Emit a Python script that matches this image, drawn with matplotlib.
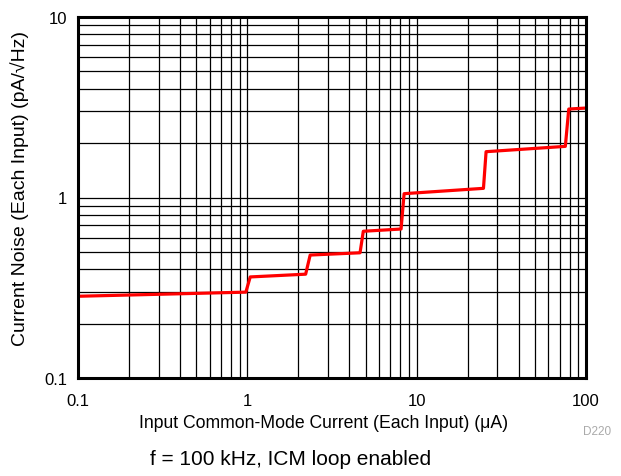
import matplotlib
matplotlib.use("Agg")
import matplotlib.pyplot as plt
from matplotlib.ticker import FixedLocator, FixedFormatter, LogLocator, NullFormatter

plt.rcParams['font.family'] = ['Liberation Sans', 'DejaVu Sans']

# Data
icm_uA = [0.105, 0.98, 1.04, 2.21, 2.35, 4.63, 4.84, 8.09, 8.43, 24.8, 25.7, 75.5, 79.1, 100]
noise_pA = [0.284, 0.299, 0.363, 0.376, 0.480, 0.494, 0.650, 0.669, 1.05, 1.124, 1.794, 1.92, 3.09, 3.13]

x_ticks = [0.1, 1, 10, 100]
x_tick_labels = ["0.1", "1", "10", "100"]
y_ticks = [0.1, 1, 10]
y_tick_labels = ["0.1", "1", "10"]

W, H = 621, 477
fig = plt.figure(figsize=(W/100, H/100), dpi=100)
ax = fig.add_axes([78/W, 1-379/H, (586-78)/W, (379-18)/H])
ax.set_xscale('log')
ax.set_yscale('log')
ax.set_xlim(0.1, 100)
ax.set_ylim(0.1, 10)

ax.xaxis.set_major_locator(FixedLocator(x_ticks))
ax.xaxis.set_major_formatter(FixedFormatter(x_tick_labels))
ax.yaxis.set_major_locator(FixedLocator(y_ticks))
ax.yaxis.set_major_formatter(FixedFormatter(y_tick_labels))
ax.xaxis.set_minor_locator(LogLocator(base=10, subs=range(2, 10)))
ax.yaxis.set_minor_locator(LogLocator(base=10, subs=range(2, 10)))
ax.xaxis.set_minor_formatter(NullFormatter())
ax.yaxis.set_minor_formatter(NullFormatter())

ax.grid(which='both', color='black', linewidth=0.9)
ax.tick_params(which='both', length=0, labelsize=12)
ax.tick_params(axis='x', pad=11)
ax.tick_params(axis='y', pad=8)
for s in ax.spines.values():
    s.set_linewidth(2.2)
    s.set_zorder(5)

ax.plot(icm_uA, noise_pA, color='#ff0000', linewidth=2.3, zorder=4)

fig.text(324/W, 1-428/H, "Input Common-Mode Current (Each Input) (\u03bcA)",
         fontsize=12.7, ha='center', va='baseline')
fig.text(20/W, 1-189/H, "Current Noise (Each Input) (pA/\u221aHz)",
         fontsize=14, ha='center', va='center', rotation=90)

fig.text(597/W, 1-432/H, "D220", fontsize=8.5, color='#aaaaaa', ha='center', va='center')
fig.text(291/W, 1-465/H, "f = 100 kHz, ICM loop enabled", fontsize=15, ha='center', va='baseline')

fig.savefig("out.png", dpi=100)
